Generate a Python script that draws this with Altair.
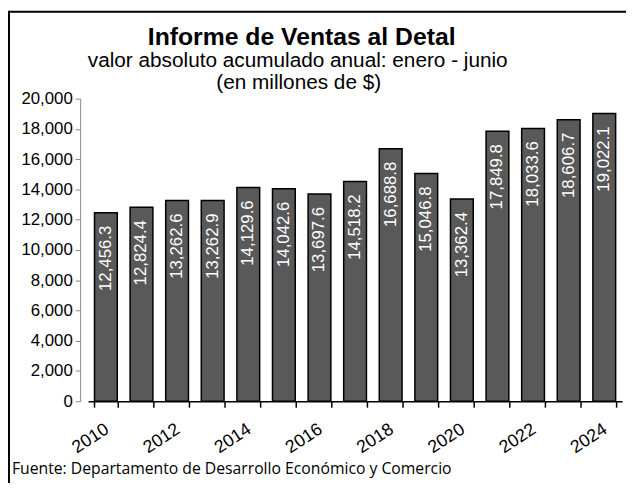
import altair as alt
import pandas as pd

years = [str(y) for y in range(2010, 2025)]
values = [12456.3, 12824.4, 13262.6, 13262.9, 14129.6, 14042.6, 13697.6, 14518.2,
          16688.8, 15046.8, 13362.4, 17849.8, 18033.6, 18606.7, 19022.1]
labels = ["12,456.3", "12,824.4", "13,262.6", "13,262.9", "14,129.6", "14,042.6", "13,697.6",
          "14,518.2", "16,688.8", "15,046.8", "13,362.4", "17,849.8", "18,033.6", "18,606.7",
          "19,022.1"]
y_ticks = list(range(0, 20001, 2000))

title_text = "Informe de Ventas al Detal"
subtitle_1 = "valor absoluto acumulado anual:  enero - junio"
subtitle_2 = "(en millones de $)"
source_text = "Fuente: Departamento de Desarrollo Económico y Comercio"

df = pd.DataFrame({"year": years, "value": values, "label": labels})

W, H = 540, 306
FONT = "Liberation Sans"

xenc = alt.X("year:O", title=None,
             scale=alt.Scale(paddingInner=0.36, paddingOuter=0.18),
             axis=alt.Axis(labelAngle=-33, labelFontSize=18, labelFont=FONT, labelColor="black",
                           domainColor="black", domainWidth=1.5, tickColor="black", tickWidth=1.5,
                           tickSize=6, tickBand="extent", labelPadding=13, labelOffset=-4,
                           labelExpr="toNumber(datum.value) % 2 == 0 ? datum.label : ''"))
yenc = alt.Y("value:Q", title=None,
             scale=alt.Scale(domain=[0, 20000], nice=False),
             axis=alt.Axis(values=y_ticks, format=",d", labelFontSize=17, labelFont=FONT,
                           labelColor="black", domainColor="#868686", tickColor="#868686",
                           tickSize=5, offset=8, grid=False, labelPadding=3,
                           labelOverlap=False))

base = alt.Chart(df)
bars = base.mark_bar(color="#595959", stroke="black", strokeWidth=1.5).encode(x=xenc, y=yenc)
text = base.mark_text(angle=270, align="right", baseline="middle", dx=-13, color="white",
                      fontSize=17, font=FONT).encode(x=xenc, y=yenc, text="label:N")

one = alt.Data(values=[{"k": 1}])
frame_left = alt.Chart(one).mark_rule(stroke="black", strokeWidth=2).encode(
    x=alt.value(-80), y=alt.value(-88), y2=alt.value(420))
frame_top = alt.Chart(one).mark_rule(stroke="black", strokeWidth=2).encode(
    x=alt.value(-81), x2=alt.value(560), y=alt.value(-88))

title = alt.Chart(one).mark_text(align="center", baseline="alphabetic", fontSize=25,
                                  font=FONT, fontWeight="bold", color="black").encode(
    x=alt.value(216), y=alt.value(-54), text=alt.value(title_text))
sub1 = alt.Chart(one).mark_text(align="center", baseline="alphabetic", fontSize=21,
                                 font=FONT, color="black").encode(
    x=alt.value(212), y=alt.value(-32), text=alt.value(subtitle_1))
sub2 = alt.Chart(one).mark_text(align="center", baseline="alphabetic", fontSize=21,
                                 font=FONT, color="black").encode(
    x=alt.value(213), y=alt.value(-10), text=alt.value(subtitle_2))
source = alt.Chart(one).mark_text(align="left", baseline="alphabetic", fontSize=15.9,
                                   font="Open Sans", color="black").encode(
    x=alt.value(-77), y=alt.value(380), text=alt.value(source_text))

chart = alt.layer(frame_left, frame_top, bars, text, title, sub1, sub2, source).properties(
    width=W, height=H,
    autosize=alt.AutoSizeParams(type="none"),
    padding={"left": 81, "top": 89, "right": 4, "bottom": 80},
).configure_view(stroke=None)

chart.save("out.html", embed_options={"renderer": "svg", "actions": False})
